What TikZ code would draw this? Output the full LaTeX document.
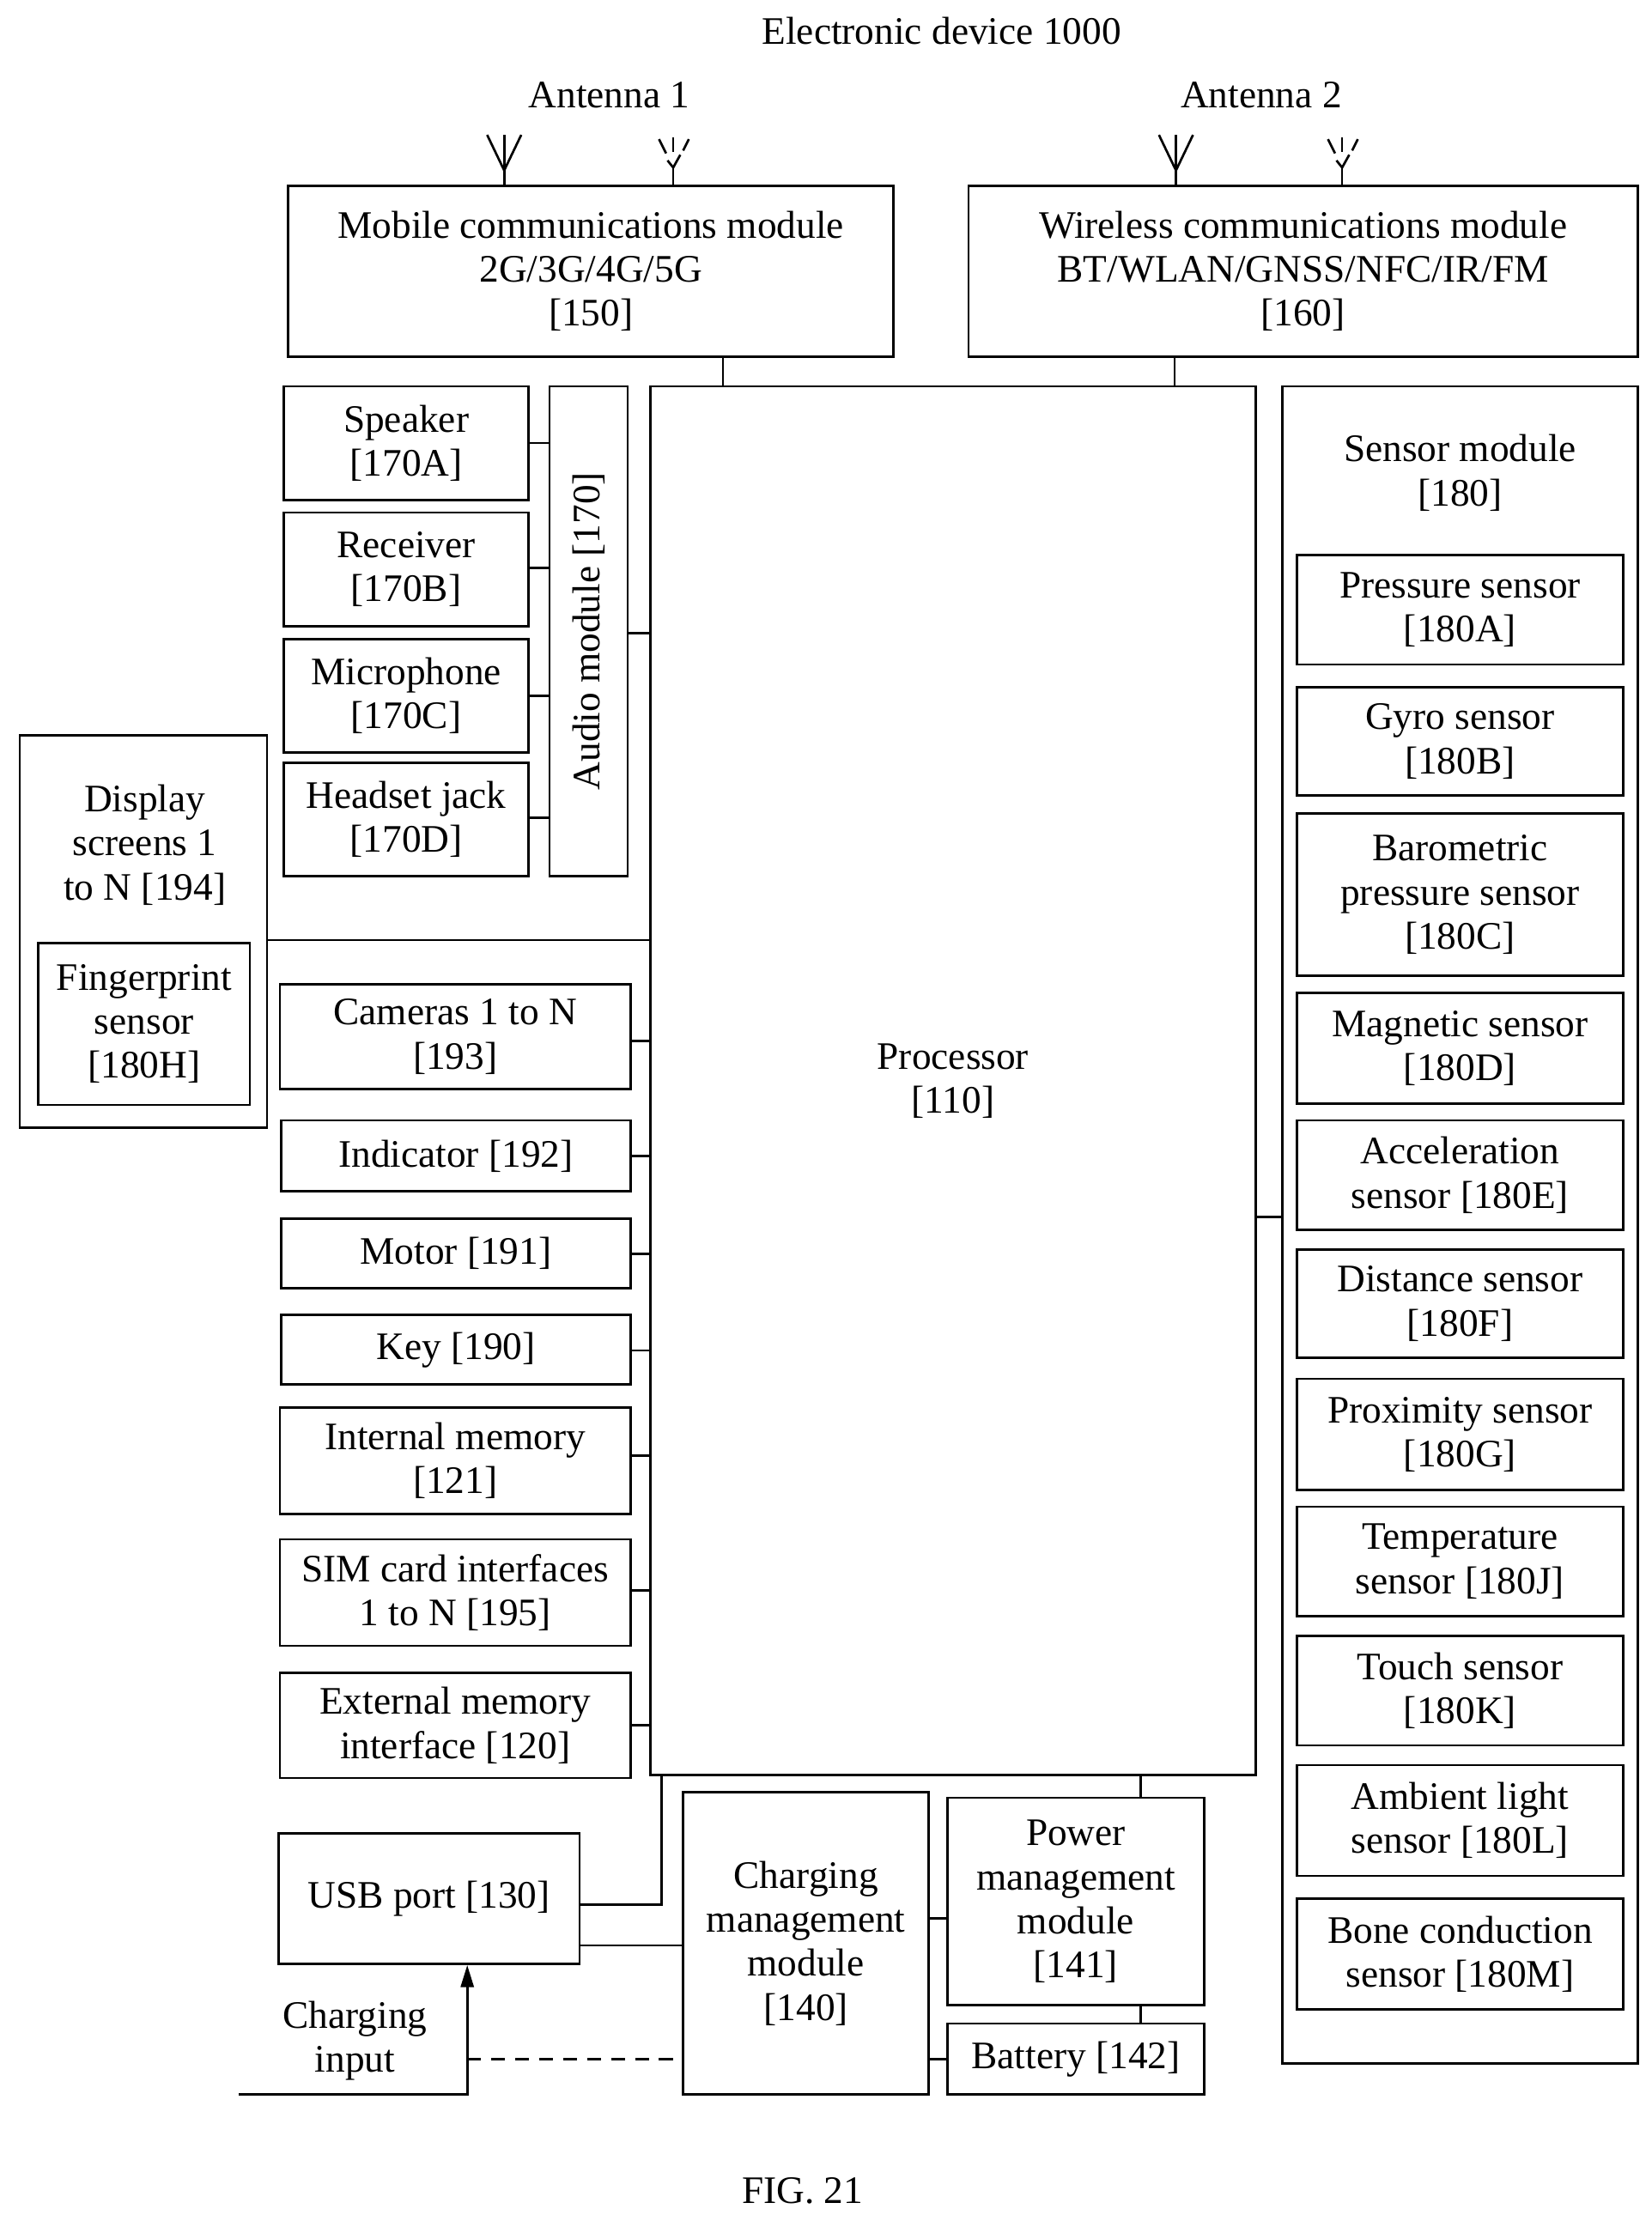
\documentclass[tikz,border=0pt]{standalone}
\usepackage{fontspec}
\setmainfont{Liberation Serif}
\usetikzlibrary{arrows.meta}
\newcommand\bx[7][]{\node[box,#1,minimum width={(#5-#3)*0.05cm},minimum height={(#6-#4)*0.05cm}] (#2) at ({(#3+#5)/2},{(#4+#6)/2}) {#7};}
\begin{document}
\begin{tikzpicture}[x=0.05cm,y=-0.05cm,line width=2.3pt,
  box/.style={draw,inner sep=0pt,align=center,font=\fontsize{39}{44}\selectfont},
  lbl/.style={inner sep=0pt,align=center,font=\fontsize{39}{44}\selectfont}]
\useasboundingbox (0,0) rectangle (1163,1564);
\node[lbl] (title) at (663,22) {Electronic device 1000};
\node[lbl] (a1) at (429,67) {Antenna 1};
\node[lbl] (a2) at (888,67) {Antenna 2};
\bx{mob}{203}{131}{629}{251}{Mobile communications module\\2G/3G/4G/5G\\{[150]}}
\bx{wir}{682}{131}{1153}{251}{Wireless communications module\\BT/WLAN/GNSS/NFC/IR/FM\\{[160]}}
% antennas
\foreach \x in {355,828}{
  \draw (\x,95) -- (\x,131); \draw (\x-12,95) -- (\x,120) -- (\x+12,95);}
\foreach \x in {474,945}{
  \draw (\x,118) -- (\x,131); \draw (\x-4,113) -- (\x,118) -- (\x+5,109);
  \draw (\x,97) -- (\x,107); \draw (\x-10,98) -- (\x-5,108); \draw (\x+11,98) -- (\x+7,106);}
\bx{proc}{458}{272}{884}{1250}{Processor\\{[110]}}
\draw (mob.south-|509,0) -- (proc.north-|509,0);
\draw (wir.south-|827,0) -- (proc.north-|827,0);
% audio
\bx{spk}{200}{272}{372}{352}{Speaker\\{[170A]}}
\bx{rec}{200}{361}{372}{441}{Receiver\\{[170B]}}
\bx{mic}{200}{450}{372}{530}{Microphone\\{[170C]}}
\bx{hs}{200}{537}{372}{617}{Headset jack\\{[170D]}}
\node[draw,inner sep=0pt,minimum width={55*0.05cm},minimum height={345*0.05cm}] (aud) at (414.5,444.5) {};
\node[lbl,rotate=90] at (aud.center) {Audio module [170]};
\foreach \n/\y in {spk/312,rec/400,mic/490,hs/576}{\draw (\n.east|-0,\y) -- (aud.west|-0,\y);}
\draw (aud.east|-0,446) -- (proc.west|-0,446);
% display
\bx{disp}{14}{518}{188}{794}{}
\node[lbl] (dispt) at (102,595) {Display\\screens 1\\to N [194]};
\bx{fp}{27}{664}{176}{778}{Fingerprint\\sensor\\{[180H]}}
\draw (disp.east|-0,662) -- (proc.west|-0,662);
% left column
\bx{cam}{197}{693}{444}{767}{Cameras 1 to N\\{[193]}}
\bx{ind}{198}{789}{444}{839}{Indicator [192]}
\bx{mot}{198}{858}{444}{907}{Motor [191]}
\bx{key}{198}{926}{444}{975}{Key [190]}
\bx{mem}{197}{991}{444}{1066}{Internal memory\\{[121]}}
\bx{sim}{197}{1084}{444}{1159}{SIM card interfaces\\1 to N [195]}
\bx{ext}{197}{1178}{444}{1252}{External memory\\interface [120]}
\foreach \n/\y in {cam/733,ind/814,mot/883,key/951,mem/1025,sim/1120,ext/1215}{\draw (\n.east|-0,\y) -- (proc.west|-0,\y);}
% sensors
\bx{sens}{903}{272}{1153}{1453}{}
\node[lbl] at (1028,333) {Sensor module\\{[180]}};
\bx{s1}{913}{391}{1143}{468}{Pressure sensor\\{[180A]}}
\bx{s2}{913}{484}{1143}{560}{Gyro sensor\\{[180B]}}
\bx{s3}{913}{573}{1143}{687}{Barometric\\pressure sensor\\{[180C]}}
\bx{s4}{913}{699}{1143}{777}{Magnetic sensor\\{[180D]}}
\bx{s5}{913}{789}{1143}{866}{Acceleration\\sensor [180E]}
\bx{s6}{913}{880}{1143}{956}{Distance sensor\\{[180F]}}
\bx{s7}{913}{971}{1143}{1049}{Proximity sensor\\{[180G]}}
\bx{s8}{913}{1061}{1143}{1138}{Temperature\\sensor [180J]}
\bx{s9}{913}{1152}{1143}{1229}{Touch sensor\\{[180K]}}
\bx{s10}{913}{1243}{1143}{1321}{Ambient light\\sensor [180L]}
\bx{s11}{913}{1337}{1143}{1415}{Bone conduction\\sensor [180M]}
\draw (proc.east|-0,857) -- (sens.west|-0,857);
% power
\bx{usb}{196}{1291}{408}{1383}{USB port [130]}
\bx{chg}{481}{1262}{654}{1475}{Charging\\management\\module\\{[140]}}
\bx{pwr}{667}{1266}{848}{1412}{Power\\management\\module\\{[141]}}
\bx{bat}{667}{1425}{848}{1475}{Battery [142]}
\draw (usb.east|-0,1341) -- (466,1341) -- (proc.south-|466,0);
\draw (usb.east|-0,1370) -- (chg.west|-0,1370);
\draw (chg.east|-0,1351) -- (pwr.west|-0,1351);
\draw (pwr.north-|803,0) -- (proc.south-|803,0);
\draw (pwr.south-|803,0) -- (bat.north-|803,0);
\draw (chg.east|-0,1450) -- (bat.west|-0,1450);
\coordinate (ci0) at (168,1475);
\coordinate (ci1) at (329,1475);
\coordinate (ci2) at (329,1450);
\draw[-{Triangle[length=22pt,width=13pt]}] (ci0) -- (ci1) -- (usb.south-|ci1);
\draw[dash pattern=on 14pt off 10pt,line width=3pt] (ci2) -- (chg.west|-ci2);
\node[lbl] (cin) at (250,1437) {Charging\\input};
\node[lbl] (fig) at (565,1543) {FIG. 21};
\end{tikzpicture}
\end{document}
